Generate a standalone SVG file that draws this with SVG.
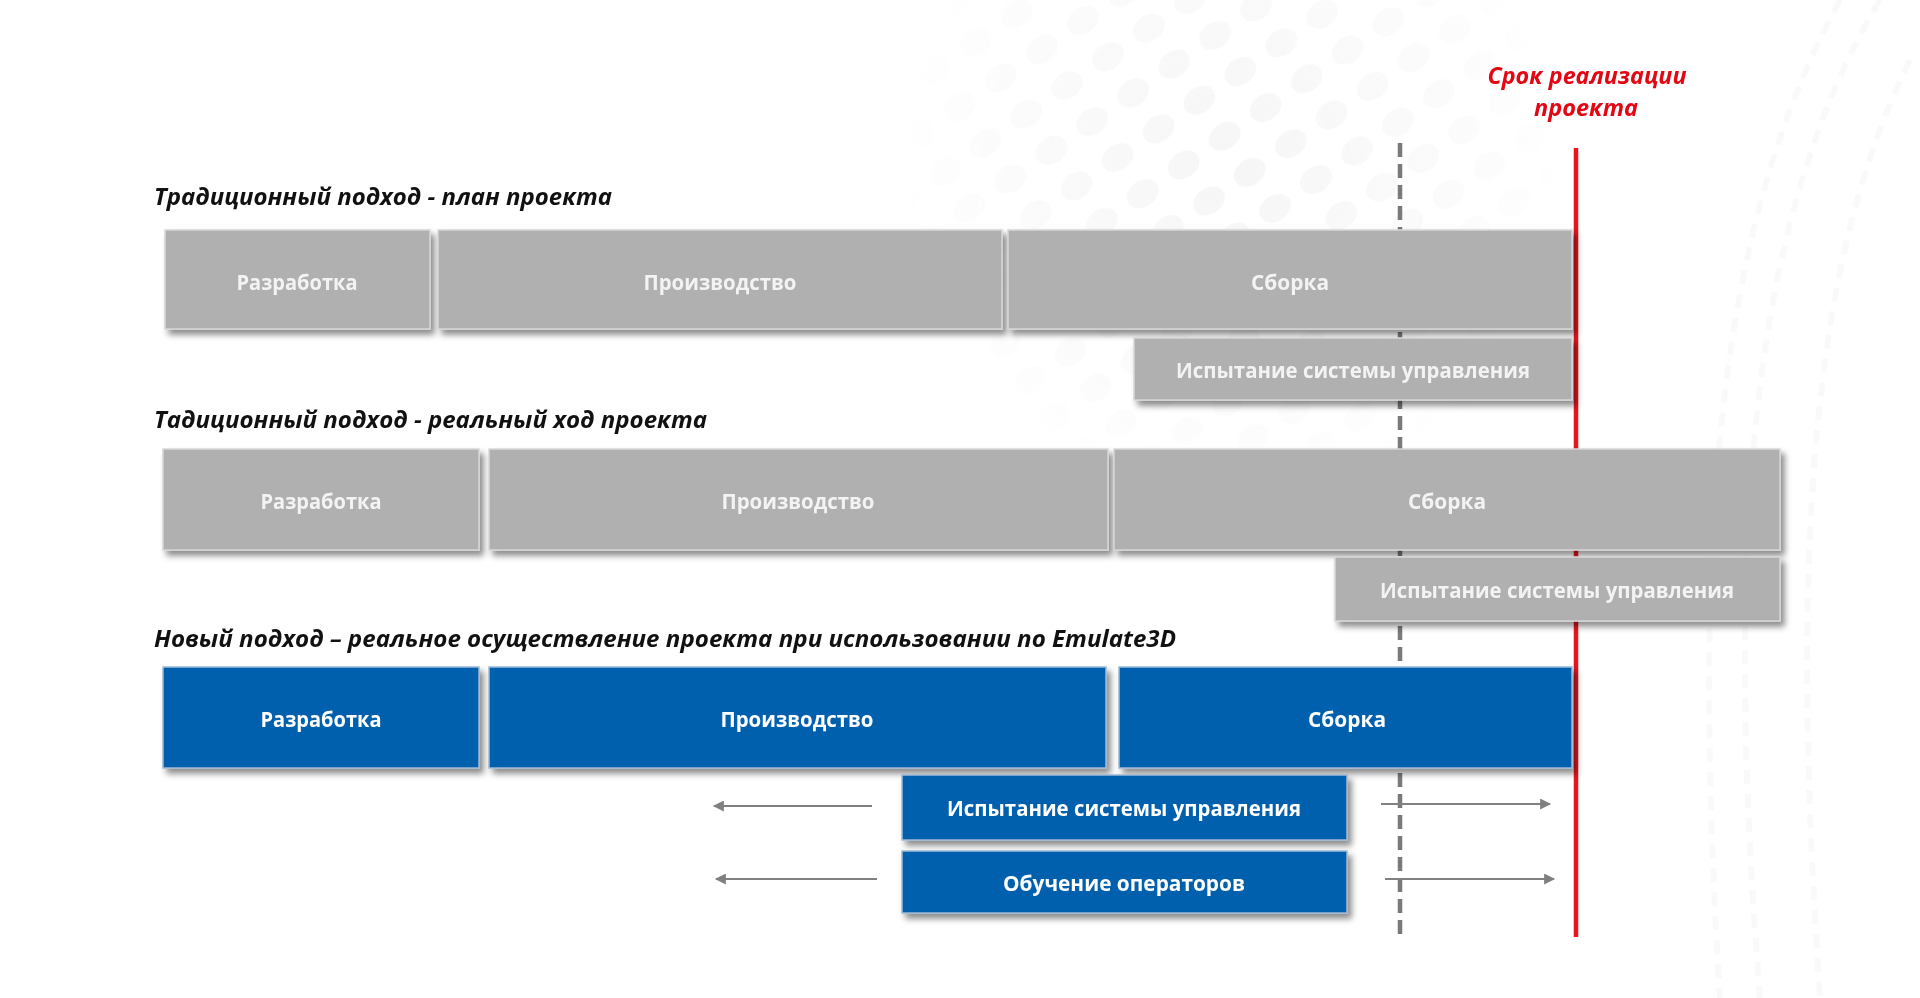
<svg xmlns="http://www.w3.org/2000/svg" width="1920" height="998" viewBox="0 0 1920 998">
<style>
.title{font-family:"Open Sans","Liberation Sans",sans-serif;font-weight:700;font-style:italic;font-size:23px;fill:#111}
.red{font-family:"Open Sans","Liberation Sans",sans-serif;font-weight:700;font-style:italic;font-size:23px;fill:#e30613;text-anchor:middle}
.gbox{fill:#b0b0b0;stroke:#d6d6d6;stroke-width:1.5}
.bbox{fill:#0561ad;stroke:#9fb9d4;stroke-width:1.5}
.lbl{font-family:"Open Sans","Liberation Sans",sans-serif;font-weight:700;font-size:22px;text-anchor:middle;dominant-baseline:central}
.gl{fill:#f3f3f3}
.bl{fill:#ffffff}
.arr{stroke:#808080;stroke-width:2.2;fill:none;marker-end:url(#ah)}
</style>
<defs>
<filter id="sh" x="-5%" y="-10%" width="115%" height="140%">
<feDropShadow dx="4" dy="5" stdDeviation="3" flood-color="#000" flood-opacity="0.45"/>
</filter>
<marker id="ah" viewBox="0 0 10 10" refX="9" refY="5" markerWidth="12" markerHeight="11" orient="auto" markerUnits="userSpaceOnUse">
<path d="M0,0 L10,5 L0,10 z" fill="#808080"/>
</marker>
<pattern id="dots" width="50" height="44" patternUnits="userSpaceOnUse" patternTransform="rotate(-35)">
<ellipse cx="25" cy="22" rx="17" ry="13" fill="#e8e8e8"/>
</pattern>
<radialGradient id="fade" cx="1230" cy="170" r="340" gradientUnits="userSpaceOnUse">
<stop offset="0" stop-color="#fff" stop-opacity="1"/>
<stop offset="0.6" stop-color="#fff" stop-opacity="0.5"/>
<stop offset="1" stop-color="#fff" stop-opacity="0"/>
</radialGradient>
<mask id="m"><rect x="0" y="0" width="1920" height="998" fill="url(#fade)"/></mask>
</defs>
<rect width="1920" height="998" fill="#ffffff"/>
<g id="background" opacity="0.4">
<rect x="880" y="0" width="720" height="560" fill="url(#dots)" mask="url(#m)"/>
<g fill="none" stroke="#f1f1f1" stroke-width="6" stroke-dasharray="14 10">
<path d="M1880,0 C1760,200 1720,500 1760,998"/>
<path d="M1840,0 C1720,220 1690,520 1720,998"/>
<path d="M1910,60 C1810,260 1790,560 1820,998"/>
</g>
</g>
<g id="connectors">
<line x1="1400" y1="143" x2="1400" y2="937" stroke="#7a7a7a" stroke-width="4.5" stroke-dasharray="14 7"/>
<line x1="1576" y1="148" x2="1576" y2="937" stroke="#e8141e" stroke-width="4.5"/>
<line class="arr" x1="872" y1="806" x2="714" y2="806"/>
<line class="arr" x1="877" y1="879" x2="716" y2="879"/>
<line class="arr" x1="1381" y1="804" x2="1550" y2="804"/>
<line class="arr" x1="1385" y1="879" x2="1554" y2="879"/>
</g>
<g id="deadline-label">
<text class="red" x="1587" y="84" textLength="199" lengthAdjust="spacingAndGlyphs">Срок реализации</text>
<text class="red" x="1586" y="116" textLength="104" lengthAdjust="spacingAndGlyphs">проекта</text>
</g>
<g id="titles">
<text class="title" x="154" y="205" textLength="458" lengthAdjust="spacingAndGlyphs">Традиционный  подход - план проекта</text>
<text class="title" x="154" y="428" textLength="553" lengthAdjust="spacingAndGlyphs">Тадиционный  подход - реальный ход проекта</text>
<text class="title" x="154" y="647" textLength="1022" lengthAdjust="spacingAndGlyphs">Новый подход – реальное осуществление проекта при использовании  по Emulate3D</text>
</g>
<g id="plan-dev" filter="url(#sh)"><rect class="gbox" x="165" y="230" width="265" height="99"/><text class="lbl gl" x="297" y="281" textLength="121" lengthAdjust="spacingAndGlyphs">Разработка</text></g>
<g id="plan-prod" filter="url(#sh)"><rect class="gbox" x="438" y="230" width="564" height="99"/><text class="lbl gl" x="720" y="281" textLength="153" lengthAdjust="spacingAndGlyphs">Производство</text></g>
<g id="plan-asm" filter="url(#sh)"><rect class="gbox" x="1008" y="230" width="564" height="99"/><text class="lbl gl" x="1290" y="281" textLength="78" lengthAdjust="spacingAndGlyphs">Сборка</text></g>
<g id="plan-test" filter="url(#sh)"><rect class="gbox" x="1134" y="338" width="438" height="62"/><text class="lbl gl" x="1353" y="369" textLength="354" lengthAdjust="spacingAndGlyphs">Испытание системы управления</text></g>
<g id="real-dev" filter="url(#sh)"><rect class="gbox" x="163" y="449" width="316" height="101"/><text class="lbl gl" x="321" y="500" textLength="121" lengthAdjust="spacingAndGlyphs">Разработка</text></g>
<g id="real-prod" filter="url(#sh)"><rect class="gbox" x="489" y="449" width="619" height="101"/><text class="lbl gl" x="798" y="500" textLength="153" lengthAdjust="spacingAndGlyphs">Производство</text></g>
<g id="real-asm" filter="url(#sh)"><rect class="gbox" x="1114" y="449" width="666" height="101"/><text class="lbl gl" x="1447" y="500" textLength="78" lengthAdjust="spacingAndGlyphs">Сборка</text></g>
<g id="real-test" filter="url(#sh)"><rect class="gbox" x="1335" y="557" width="445" height="64"/><text class="lbl gl" x="1557" y="589" textLength="354" lengthAdjust="spacingAndGlyphs">Испытание системы управления</text></g>
<g id="new-dev" filter="url(#sh)"><rect class="bbox" x="163" y="667" width="316" height="101"/><text class="lbl bl" x="321" y="718" textLength="121" lengthAdjust="spacingAndGlyphs">Разработка</text></g>
<g id="new-prod" filter="url(#sh)"><rect class="bbox" x="489" y="667" width="617" height="101"/><text class="lbl bl" x="797" y="718" textLength="153" lengthAdjust="spacingAndGlyphs">Производство</text></g>
<g id="new-asm" filter="url(#sh)"><rect class="bbox" x="1119" y="667" width="453" height="101"/><text class="lbl bl" x="1347" y="718" textLength="78" lengthAdjust="spacingAndGlyphs">Сборка</text></g>
<g id="new-test" filter="url(#sh)"><rect class="bbox" x="902" y="775" width="445" height="65"/><text class="lbl bl" x="1124" y="807" textLength="354" lengthAdjust="spacingAndGlyphs">Испытание системы управления</text></g>
<g id="new-train" filter="url(#sh)"><rect class="bbox" x="902" y="851" width="445" height="62"/><text class="lbl bl" x="1124" y="882" textLength="242" lengthAdjust="spacingAndGlyphs">Обучение операторов</text></g>
</svg>
